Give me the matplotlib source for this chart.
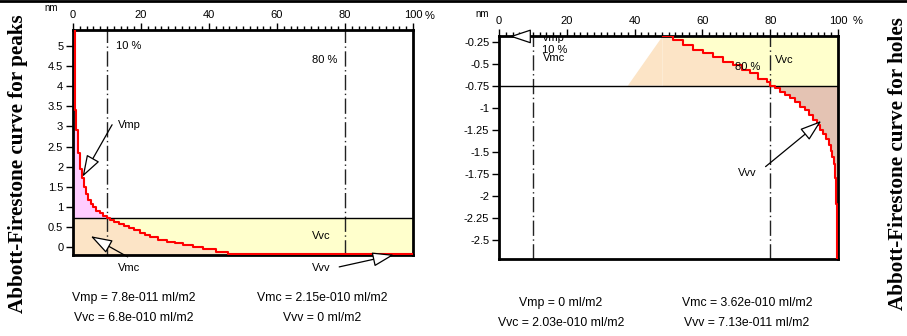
import numpy as np
import matplotlib
matplotlib.use("Agg")
import matplotlib.pyplot as plt
from matplotlib.lines import Line2D

# material ratio (%) / height (nm) of the two bearing-area curves
peak_ratio = [0, 0.5, 1.0, 1.6, 2.1, 2.6, 3.1, 3.8, 4.5, 5.2, 6.0, 6.9, 7.9, 8.9, 9.9,
              11.0, 12.2, 13.5, 14.9, 16.4, 18.0, 19.7, 21.2, 22.6, 25.0, 27.5, 30.0,
              32.4, 35.4, 38.3, 42.2, 45.7, 100]
peak_height = [5.5, 3.4, 2.9, 2.35, 1.95, 1.72, 1.5, 1.32, 1.17, 1.07, 0.99, 0.91, 0.84,
               0.77, 0.72, 0.67, 0.62, 0.57, 0.52, 0.47, 0.42, 0.36, 0.30, 0.25, 0.19,
               0.14, 0.10, 0.05, 0.0, -0.05, -0.11, -0.155, -0.155]
peak_threshold = 0.72

hole_ratio = [48.3, 51.4, 54.4, 57.3, 60.3, 63.2, 66.2, 69.1, 71.6, 74.0, 76.5, 79.0,
              80.0, 81.5, 83.0, 84.4, 85.8, 87.3, 88.8, 90.2, 91.5, 92.7, 93.8, 94.8,
              95.7, 96.5, 97.2, 97.8, 98.3, 98.7, 99.0, 99.2, 99.4, 99.5, 99.6, 100]
hole_height = [-0.185, -0.23, -0.29, -0.34, -0.38, -0.42, -0.48, -0.52, -0.57, -0.61,
               -0.67, -0.71, -0.75, -0.78, -0.82, -0.86, -0.89, -0.94, -0.99, -1.03,
               -1.08, -1.14, -1.20, -1.25, -1.30, -1.36, -1.42, -1.49, -1.56, -1.64,
               -1.72, -1.80, -1.95, -2.10, -2.72, -2.72]
hole_threshold = -0.75
hole_fill_start = 38

peak_values = ["Vmp = 7.8e-011 ml/m2", "Vmc = 2.15e-010 ml/m2",
               "Vvc = 6.8e-010 ml/m2", "Vvv = 0 ml/m2"]
hole_values = ["Vmp = 0 ml/m2", "Vmc = 3.62e-010 ml/m2",
               "Vvc = 2.03e-010 ml/m2", "Vvv = 7.13e-011 ml/m2"]

peak_yticks = [0, 0.5, 1, 1.5, 2, 2.5, 3, 3.5, 4, 4.5, 5]
hole_yticks = [-2.5, -2.25, -2, -1.75, -1.5, -1.25, -1, -0.75, -0.5, -0.25]
ratio_ticks = [0, 20, 40, 60, 80, 100]

PINK = "#FFCCFF"
PEACH = "#FCE4C6"
YELLOW = "#FFFFCC"
BROWN = "#E4C3B3"
SANS = "Liberation Sans"

W, H = 907, 336
fig = plt.figure(figsize=(W / 100, H / 100), dpi=100)


def px_axes(left, top, right, bottom):
    return fig.add_axes([left / W, 1 - bottom / H, (right - left) / W, (bottom - top) / H])


def style_axes(ax, ylim, yticks):
    ax.set_xlim(0, 100)
    ax.set_ylim(*ylim)
    ax.xaxis.tick_top()
    ax.set_xticks(ratio_ticks)
    ax.set_xticks(np.arange(0, 101, 2), minor=True)
    ax.set_xticklabels([str(t) for t in ratio_ticks], fontsize=8, family=SANS)
    ax.set_yticks(yticks)
    ax.set_yticklabels([f"{v:g}" for v in yticks], fontsize=8, family=SANS)
    ax.tick_params(axis="x", which="major", length=5, width=1, pad=2)
    ax.tick_params(axis="x", which="minor", length=3, width=1)
    ax.tick_params(axis="y", length=5, width=1, pad=2)
    for s in ax.spines.values():
        s.set_linewidth(2)
    for xv in (10, 80):
        ax.axvline(xv, color="#222222", lw=1, ls=(0, (11, 2.5, 1, 2.5)), zorder=2)


def arrow(ax, tip, tail):
    ax.annotate("", xy=tip, xytext=tail, annotation_clip=False,
                arrowprops=dict(arrowstyle="-|>,head_length=0.9,head_width=0.3",
                                fc="white", ec="black", lw=0.9, mutation_scale=15))


def label(ax, x, y, s, **kw):
    ax.text(x, y, s, fontsize=8, family=SANS, va="center", zorder=4, **kw)


# ---- peaks ----
ax1 = px_axes(73, 30, 413, 255)
style_axes(ax1, (-0.19, 5.39), peak_yticks)
px = np.array(peak_ratio)
py = np.array(peak_height)
ylo = -0.19
ax1.fill_between(px, ylo, np.minimum(py, peak_threshold), step="post", color=PEACH, lw=0)
ax1.fill_between(px, peak_threshold, np.maximum(py, peak_threshold), step="post", color=PINK, lw=0)
ax1.fill_between(px, np.minimum(py, peak_threshold), peak_threshold, step="post", color=YELLOW, lw=0)
ax1.axhline(peak_threshold, color="black", lw=1, zorder=2)
ax1.plot(px, py, drawstyle="steps-post", color="red", lw=1.5, zorder=3)

label(ax1, 12.6, 5.0, "10 %")
label(ax1, 77.8, 4.65, "80 %", ha="right")
label(ax1, 13.3, 3.03, "Vmp")
arrow(ax1, (2.4, 1.69), (11.9, 3.1))
label(ax1, 70.3, 0.28, "Vvc")
label(ax1, 13.3, -0.52, "Vmc")
arrow(ax1, (4.5, 0.31), (16.8, -0.27))
label(ax1, 70.3, -0.52, "Vvv")
arrow(ax1, (95.2, -0.17), (77.5, -0.50))

# ---- holes ----
ax2 = px_axes(499, 36, 838, 259)
style_axes(ax2, (-2.72, -0.185), hole_yticks)
hx = np.array(hole_ratio)
hy = np.array(hole_height)
ax2.fill_between([hx[0], 100], hole_threshold, -0.185, color=YELLOW, lw=0)
ax2.fill_between(hx, np.maximum(hy, hole_threshold), hole_threshold, step="post", color=PEACH, lw=0)
ax2.fill([hole_fill_start, hx[0], hx[0]], [hole_threshold, hy[0], hole_threshold], color=PEACH, lw=0)
ax2.fill_between(hx, np.minimum(hy, hole_threshold), hole_threshold, step="post", color=BROWN, lw=0)
ax2.axhline(hole_threshold, color="black", lw=1, zorder=2)
ax2.plot(hx, hy, drawstyle="steps-post", color="red", lw=1.5, zorder=3)

ax2.text(12.6, -0.21, "Vmp", fontsize=8, family=SANS, va="center", zorder=1, clip_on=True)
arrow(ax2, (2.3, -0.19), (9.1, -0.19))
label(ax2, 12.6, -0.345, "10 %")
label(ax2, 13.1, -0.44, "Vmc")
label(ax2, 69.6, -0.535, "80 %")
label(ax2, 81.4, -0.46, "Vvc")
label(ax2, 70.5, -1.74, "Vvv")
arrow(ax2, (95.7, -1.13), (78.0, -1.69))

# unit labels
fig.text(51 / W, 1 - 8 / H, "nm", fontsize=7, family=SANS, ha="center", va="center")
fig.text(482 / W, 1 - 14 / H, "nm", fontsize=7, family=SANS, ha="center", va="center")
fig.text(425 / W, 1 - 16 / H, "%", fontsize=8, family=SANS, va="center")
fig.text(853 / W, 1 - 21 / H, "%", fontsize=8, family=SANS, va="center")

# volume summaries
for (cx, cy), s in zip([(134, 298), (322, 298), (134, 318), (322, 318)], peak_values):
    fig.text(cx / W, 1 - cy / H, s, fontsize=8.8, family=SANS, ha="center", va="center")
for (cx, cy), s in zip([(561, 303), (747, 303), (561, 323), (747, 323)], hole_values):
    fig.text(cx / W, 1 - cy / H, s, fontsize=8.8, family=SANS, ha="center", va="center")

fig.text(18 / W, 1 - 164 / H, "Abbott-Firestone curve for peaks", rotation=90,
         fontsize=15.2, family="Liberation Serif", weight="bold", ha="center", va="center")
fig.text(898 / W, 1 - 164 / H, "Abbott-Firestone curve for holes", rotation=90,
         fontsize=15.2, family="Liberation Serif", weight="bold", ha="center", va="center")

fig.add_artist(Line2D([0, 1], [1 - 1 / H, 1 - 1 / H], color="black", lw=2,
                      transform=fig.transFigure))

fig.savefig("out.png", dpi=100)
